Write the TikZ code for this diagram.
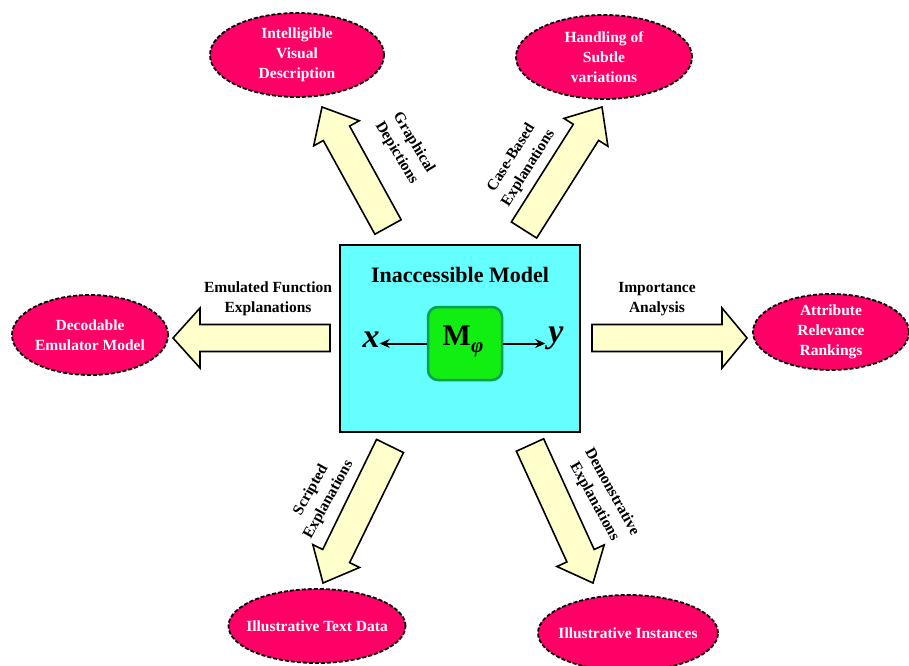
\documentclass[tikz,border=0pt]{standalone}
\usepackage{fontspec}
\setmainfont{Liberation Serif}
\usetikzlibrary{shapes.geometric,arrows.meta}
\definecolor{ellred}{HTML}{FF0066}
\definecolor{boxcyan}{HTML}{66FFFF}
\definecolor{mgreen}{HTML}{11EE11}
\definecolor{mgreenborder}{HTML}{00A050}
\definecolor{arrowfill}{HTML}{FFFFCC}
\newcommand\barrow[7]{% tailx taily tipx tipy shafthalf headhalf headlen
  \pgfmathsetmacro\bdx{#3-#1}\pgfmathsetmacro\bdy{#4-#2}%
  \pgfmathsetmacro\bang{atan2(\bdy,\bdx)}\pgfmathsetmacro\blen{veclen(\bdx,\bdy)}%
  \pgfmathsetmacro\bbase{\blen-#7}%
  \begin{scope}[shift={(#1,#2)},rotate=\bang]
    \draw[blockarrow] (0,-#5) -- (\bbase,-#5) -- (\bbase,-#6) -- (\blen,0) -- (\bbase,#6) -- (\bbase,#5) -- (0,#5) -- cycle;
  \end{scope}}
\tikzset{
  outcome/.style={ellipse, draw=black, dash pattern=on 4pt off 2pt, line width=1.8pt,
    fill=ellred, inner sep=0pt},
  outtext/.style={text=white, align=center, inner sep=0pt,
    font=\fontsize{15.5}{20}\selectfont\bfseries},
  blockarrow/.style={draw=black, fill=arrowfill, line width=1.6pt, line join=miter},
  albl/.style={align=center, font=\fontsize{15.5}{20}\selectfont\bfseries, inner sep=0pt},
  smallarr/.style={line width=2pt, -{Stealth[length=10pt,width=9pt]}}
}
\begin{document}
\begin{tikzpicture}[x=1pt,y=1pt]
\useasboundingbox (0,0) rectangle (909,665);
% central box
\node[draw=black, line width=2pt, fill=boxcyan, minimum width=240pt, minimum height=187pt, inner sep=0pt] (box) at (460,326.5) {};
\node[font=\fontsize{22}{26}\selectfont\bfseries, inner sep=0pt] (title) at (460,390) {Inaccessible Model};
\node[draw=mgreenborder, line width=2.5pt, fill=mgreen, rounded corners=10pt, minimum width=74pt, minimum height=73pt, inner sep=0pt] (mb) at (465,321.5) {};
\node[font=\fontsize{30}{34}\selectfont\bfseries, inner sep=0pt] (mlabel) at (463,324) {M\raisebox{-7pt}{\fontsize{21}{24}\selectfont\itshape φ}};
\node[font=\fontsize{34}{38}\selectfont\bfseries\itshape, inner sep=0pt] (xin) at (371,325) {x};
\node[font=\fontsize{34}{38}\selectfont\bfseries\itshape, inner sep=0pt] (yout) at (556,327) {y};
\draw[smallarr] (mb.west) -- (xin.east |- mb.west);
\draw[smallarr] (mb.east) -- ([xshift=-3pt]yout.west |- mb.east);
% outcome ellipses
\node[outcome, minimum width=174pt, minimum height=84pt] (e1) at (297,610) {};
\node[outtext] (t1) at (e1.center) {Intelligible\\Visual\\Description};
\node[outcome, minimum width=176pt, minimum height=84pt] (e2) at (604,608) {};
\node[outtext] (t2) at (e2.center) {Handling of\\Subtle\\variations};
\node[outcome, minimum width=156pt, minimum height=80pt] (e3) at (90,330) {};
\node[outtext] (t3) at (e3.center) {Decodable\\Emulator Model};
\node[outcome, minimum width=156pt, minimum height=76pt] (e4) at (831,333) {};
\node[outtext] (t4) at (e4.center) {Attribute\\Relevance\\Rankings};
\node[outcome, minimum width=177pt, minimum height=74pt] (e5) at (317,39) {};
\node[outtext] (t5) at (e5.center) {Illustrative Text Data};
\node[outcome, minimum width=180pt, minimum height=76pt] (e6) at (628,32) {};
\node[outtext] (t6) at (e6.center) {Illustrative Instances};
% block arrows
\barrow{330}{327}{173}{327}{13.5}{30}{27}
\barrow{592}{327}{747}{327}{13.5}{30}{25}
\barrow{388}{438}{322}{558}{15}{26}{30}
\barrow{524}{435}{602}{558}{15}{26}{30}
\barrow{390}{219}{323}{82}{15}{26}{30}
\barrow{530}{220}{593}{82}{15}{26}{30}
% arrow labels
\node[albl] (l1) at (268,366) {Emulated Function\\Explanations};
\node[albl] (l2) at (657,366) {Importance\\Analysis};
\node[albl, rotate=-59] (l3) at (405,517) {Graphical\\Depictions};
\node[albl, rotate=58] (l4) at (520,502) {Case-Based\\Explanations};
\node[albl, rotate=61] (l5) at (320,170) {Scripted\\Explanations};
\node[albl, rotate=-61] (l6) at (603,168) {Demonstrative\\Explanations};
\end{tikzpicture}
\end{document}
